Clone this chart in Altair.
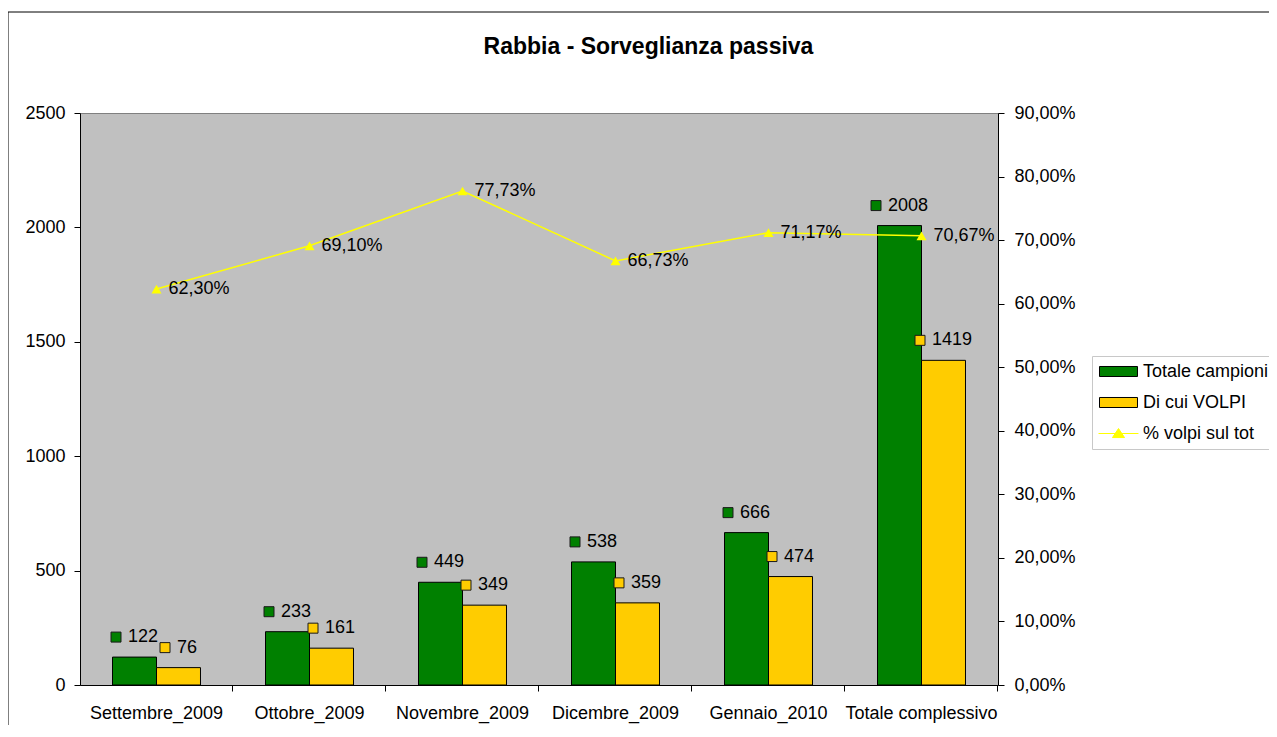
import altair as alt
import pandas as pd

categories = ["Settembre_2009", "Ottobre_2009", "Novembre_2009", "Dicembre_2009", "Gennaio_2010", "Totale complessivo"]
totale = [122, 233, 449, 538, 666, 2008]
volpi = [76, 161, 349, 359, 474, 1419]
perc = [0.6230, 0.6910, 0.7773, 0.6673, 0.7117, 0.7067]
series = ["Totale campioni", "Di cui VOLPI"]
line_name = "% volpi sul tot"
left_ticks = [0, 500, 1000, 1500, 2000, 2500]
right_ticks = [0, 0.1, 0.2, 0.3, 0.4, 0.5, 0.6, 0.7, 0.8, 0.9]

GREEN = "#008000"
YELLOW = "#FFCC00"
LINEY = "#FFFF00"
FONT = "Liberation Sans"

rows = []
for c, t, v in zip(categories, totale, volpi):
    rows.append({"cat": c, "serie": series[0], "val": t})
    rows.append({"cat": c, "serie": series[1], "val": v})
bars_df = pd.DataFrame(rows)
line_df = pd.DataFrame({"cat": categories, "perc": perc})
frame_df = pd.DataFrame({"k": [0]})

x_main = alt.X(
    "cat:N", sort=categories,
    scale=alt.Scale(paddingInner=0.425, paddingOuter=0.2125),
    axis=alt.Axis(title=None, labelAngle=0, bandPosition=1.369, labelOverlap=False,
                  labelPadding=13, tickSize=6),
)
x_plain = alt.X("cat:N", sort=categories)

legend = alt.Legend(
    title=None, orient="none", legendX=1012, legendY=243,
    labelFontSize=18, labelFont=FONT, labelColor="black", labelLimit=300,
    symbolType={"expr": "datum.label === '% volpi sul tot' ? 'M-2.22,0H2.22M0,-0.55L0.67,0.45H-0.67Z' : 'M-2.11,-0.556H2.11V0.556H-2.11Z'"},
    symbolSize=324,
    symbolStrokeColor={"expr": "datum.label === '% volpi sul tot' ? '#FFFF00' : '#000000'"},
    symbolStrokeWidth=1, symbolOpacity=1,
    symbolOffset=11, labelOffset=15, padding=6, rowPadding=12,
    strokeColor="#c8c8c8", fillColor="white",
)

fill_enc = alt.Fill(
    "serie:N",
    scale=alt.Scale(domain=series + [line_name], range=[GREEN, YELLOW, LINEY]),
    legend=legend,
)

left_scale = alt.Scale(domain=[0, 2500], nice=False, zero=True)
right_scale = alt.Scale(domain=[0, 0.9], nice=False, zero=True)

y_left = alt.Y(
    "val:Q", scale=left_scale,
    axis=alt.Axis(title=None, values=left_ticks, format="d", tickSize=6, labelPadding=9, grid=False),
)
y_left_plain = alt.Y("val:Q", scale=left_scale)

frame = alt.Chart(frame_df).mark_rect(fill="transparent", stroke="black", strokeWidth=1).encode(
    x=alt.value(-72), x2=alt.value(1260), y=alt.value(-101), y2=alt.value(700)
)

bars = alt.Chart(bars_df).mark_bar(stroke="black", strokeWidth=1).encode(
    x=x_main,
    xOffset=alt.XOffset("serie:N", sort=series, scale=alt.Scale(paddingInner=0, paddingOuter=0)),
    y=y_left,
    fill=fill_enc,
)

side = "(datum.serie === 'Totale campioni' ? -22 : 22)"
wexpr = "(17 + 10 * length(datum.lbl))"

lab_base = alt.Chart(bars_df).transform_calculate(lbl="toString(datum.val)")

squares = lab_base.mark_square(
    size=100, stroke="#1a1a1a", strokeWidth=1, opacity=1, yOffset=-20,
    xOffset={"expr": f"{side} - {wexpr} / 2 + 5"},
).encode(x=x_plain, y=y_left_plain, fill=alt.Fill("serie:N", legend=None))

texts = lab_base.mark_text(
    align="left", baseline="middle", fontSize=18, font=FONT, color="black", yOffset=-20,
    dx={"expr": f"{side} - {wexpr} / 2 + 17"},
).encode(x=x_plain, y=y_left_plain, text="lbl:N")

y_right = alt.Y(
    "perc:Q", scale=right_scale,
    axis=alt.Axis(orient="right", title=None, values=right_ticks,
                  labelExpr="replace(format(datum.value, '.2%'), '.', ',')",
                  tickSize=6, labelPadding=10, grid=False),
)
y_right_plain = alt.Y("perc:Q", scale=right_scale)

line = alt.Chart(line_df).mark_line(color=LINEY, strokeWidth=1.5).encode(x=x_plain, y=y_right)
pts = alt.Chart(line_df).mark_point(shape="triangle-up", filled=True, size=100, color=LINEY, opacity=1).encode(
    x=x_plain, y=y_right_plain
)
ptxt = alt.Chart(line_df).transform_calculate(
    plbl="replace(format(datum.perc, '.2%'), '.', ',')"
).mark_text(align="left", baseline="middle", dx=12, fontSize=18, font=FONT, color="black").encode(
    x=x_plain, y=y_right_plain, text="plbl:N"
)

left = alt.layer(frame, bars, squares, texts)
right = alt.layer(line, pts, ptxt)

chart = alt.layer(left, right).resolve_scale(y="independent").properties(
    width=918, height=572, autosize="none",
    padding={"left": 72, "top": 105, "right": 271, "bottom": 40},
    title=alt.TitleParams("Rabbia - Sorveglianza passiva", anchor="middle", dx=109.5, offset=-47),
).configure(background="white").configure_axis(
    labelFont=FONT, labelFontSize=18, labelColor="black",
    domainColor="black", tickColor="black", grid=False,
).configure_view(fill="#C0C0C0", stroke="#808080").configure_title(
    font=FONT, fontSize=23, fontWeight="bold", color="black"
)

chart.save("out.html", embed_options={"renderer": "svg", "actions": False})
